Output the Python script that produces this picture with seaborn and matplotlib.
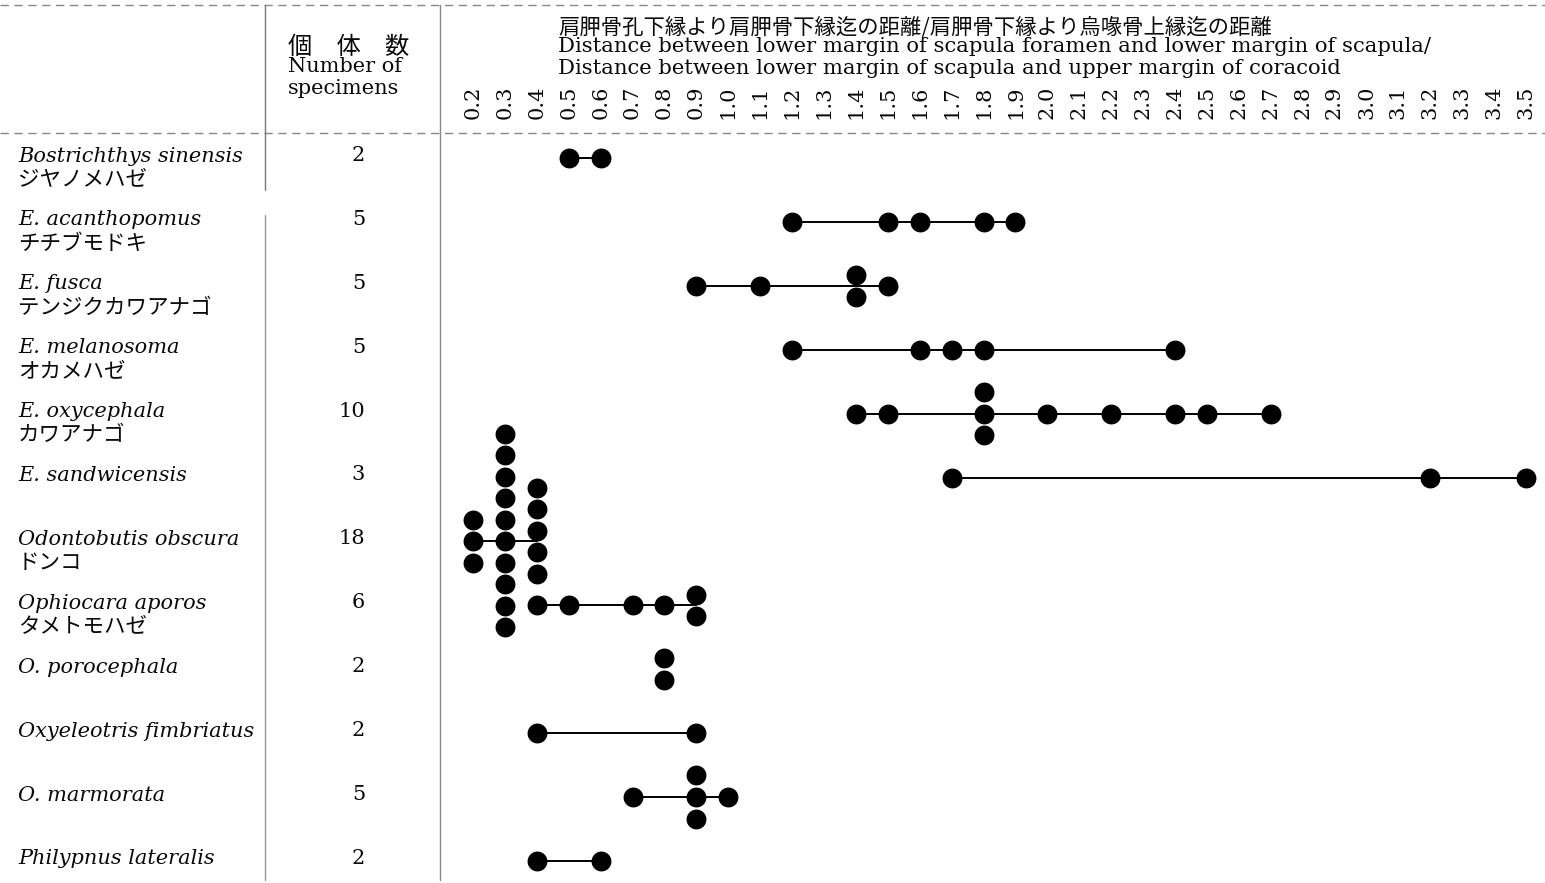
import numpy as np
import pandas as pd
import matplotlib
matplotlib.use("Agg")
import matplotlib.pyplot as plt
import matplotlib.transforms as mtransforms
from matplotlib.lines import Line2D
import seaborn as sns

# ---------------- data ----------------
species = ["Bostrichthys sinensis", "E. acanthopomus", "E. fusca", "E. melanosoma",
           "E. oxycephala", "E. sandwicensis", "Odontobutis obscura", "Ophiocara aporos",
           "O. porocephala", "Oxyeleotris fimbriatus", "O. marmorata", "Philypnus lateralis"]
jp_names = ["ジヤノメハゼ", "チチブモドキ", "テンジクカワアナゴ", "オカメハゼ", "カワアナゴ", "",
            "ドンコ", "タメトモハゼ", "", "", "", ""]
n_specimens = [2, 5, 5, 5, 10, 3, 18, 6, 2, 2, 5, 2]
# one entry per specimen (ratio values)
measurements = [
    [0.5, 0.6],
    [1.2, 1.5, 1.6, 1.8, 1.9],
    [0.9, 1.1, 1.4, 1.4, 1.5],
    [1.2, 1.6, 1.7, 1.8, 2.4],
    [1.4, 1.5, 1.8, 1.8, 1.8, 2.0, 2.2, 2.4, 2.5, 2.7],
    [1.7, 3.2, 3.5],
    [0.2] * 3 + [0.3] * 10 + [0.4] * 5,
    [0.4, 0.5, 0.7, 0.8, 0.9, 0.9],
    [0.8, 0.8],
    [0.4, 0.9],
    [0.7, 0.9, 0.9, 0.9, 1.0],
    [0.4, 0.6],
]
tick_values = [round(0.2 + 0.1 * i, 1) for i in range(34)]
tick_labels = [f"{v:.1f}" for v in tick_values]
title_jp = "肩胛骨孔下縁より肩胛骨下縁迄の距離/肩胛骨下縁より烏喙骨上縁迄の距離"
title_en1 = "Distance between lower margin of scapula foramen and lower margin of scapula/"
title_en2 = "Distance between lower margin of scapula and upper margin of coracoid"

# ---------------- layout ----------------
W, H = 1545, 883
STACK_STEP = 0.3365          # vertical spacing of stacked dots (row units)
stack_shift = {("Odontobutis obscura", 0.3): -0.5, ("Odontobutis obscura", 0.4): -0.5}

dots, segs = [], []
for i, (sp, vals) in enumerate(zip(species, measurements)):
    s = pd.Series(vals).round(1)
    for v, n in s.value_counts().sort_index().items():
        sh = stack_shift.get((sp, v), 0.0)
        for k in range(n):
            dots.append({"species": sp, "value": v, "y": i + (k - (n - 1) / 2 + sh) * STACK_STEP})
        segs.append({"species": sp, "value": v, "y": float(i)})
dots = pd.DataFrame(dots)
segs = pd.DataFrame(segs)

sns.set_theme(style="white")
plt.rcParams["font.family"] = ["DejaVu Serif", "Noto Sans CJK JP"]
INK = "#0a0a0a"

fig = plt.figure(figsize=(W / 100, H / 100), dpi=100)
fig.patch.set_facecolor("white")

def fx(px):
    return px / W

def fy(py):
    return 1 - py / H

# data axes: x 440..1545 px, y 133..883 px
ax_l, ax_r, ax_t, ax_b = 440, 1545, 133, 883
ax = fig.add_axes([fx(ax_l), fy(ax_b), (ax_r - ax_l) / W, (ax_b - ax_t) / H])
ppu = (1526 - 473) / 3.3
ax.set_xlim(0.2 - (473 - ax_l) / ppu, 3.5 + (ax_r - 1526) / ppu)
row_px = 63.9
ax.set_ylim((ax_b - 158) / row_px, -(158 - ax_t) / row_px)
ax.set_facecolor("white")

sns.lineplot(data=segs, x="value", y="y", units="species", estimator=None,
             color="black", lw=1.4, ax=ax, zorder=1, legend=False)
sns.scatterplot(data=dots, x="value", y="y", color="black", s=205, linewidth=0,
                ax=ax, zorder=2, legend=False)

for sp in ax.spines.values():
    sp.set_visible(False)
ax.set_xlabel("")
ax.set_ylabel("")
ax.set_yticks([])
ax.xaxis.tick_top()
ax.set_xticks(tick_values)
ax.set_xticklabels(tick_labels, rotation=90, fontsize=15, family="DejaVu Serif")
ax.tick_params(axis="x", length=0, pad=10, colors=INK)
ax.grid(False)

# table text, rows aligned through the axes' y scale
trans = mtransforms.blended_transform_factory(fig.transFigure, ax.transData)
for i, (sp, jp, n) in enumerate(zip(species, jp_names, n_specimens)):
    fig.text(fx(18), i - 0.03, sp, transform=trans, fontsize=15, style="italic",
             family="DejaVu Serif", va="center", ha="left", color=INK)
    if jp:
        fig.text(fx(18), i + 0.34, jp, transform=trans, fontsize=15.5,
                 family="Noto Sans CJK JP", va="center", ha="left", color=INK)
    fig.text(fx(365), i - 0.04, str(n), transform=trans, fontsize=15,
             family="DejaVu Serif", va="center", ha="right", color=INK)

# header
fig.text(fx(288), fy(47), "個　体　数", fontsize=17.5, family="Noto Sans CJK JP",
         va="center", ha="left", color=INK)
fig.text(fx(288), fy(67), "Number of", fontsize=15, family="DejaVu Serif",
         va="center", ha="left", color=INK)
fig.text(fx(288), fy(88), "specimens", fontsize=15, family="DejaVu Serif",
         va="center", ha="left", color=INK)
fig.text(fx(558), fy(28), title_jp, fontsize=15.4, family="Noto Sans CJK JP",
         va="center", ha="left", color=INK)
fig.text(fx(558), fy(47), title_en1, fontsize=15.2, family="DejaVu Serif",
         va="center", ha="left", color=INK)
fig.text(fx(558), fy(68), title_en2, fontsize=15.2, family="DejaVu Serif",
         va="center", ha="left", color=INK)

# rules of the table
def hline(py, x0, x1, **kw):
    fig.add_artist(Line2D([fx(x0), fx(x1)], [fy(py), fy(py)], transform=fig.transFigure, **kw))

def vline(px, y0, y1, **kw):
    fig.add_artist(Line2D([fx(px), fx(px)], [fy(y0), fy(y1)], transform=fig.transFigure, **kw))

rule = dict(color="#888888", lw=1.0, ls=(0, (6, 4)))
hline(5, 0, W, **rule)
hline(133, 0, W, **rule)
vline(265, 5, 190, color="#777777", lw=1.0)
vline(265, 215, 880, color="#999999", lw=1.0)
vline(440, 5, 880, color="#888888", lw=1.0)

fig.savefig("out.png", dpi=100, facecolor="white")
